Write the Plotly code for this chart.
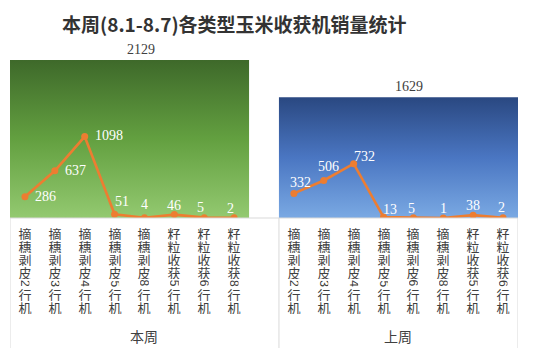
import plotly.graph_objects as go

groups = ["本周", "上周"]
totals = [2129, 1629]
this_week_cats = ["摘穗剥皮2行机", "摘穗剥皮3行机", "摘穗剥皮4行机", "摘穗剥皮5行机",
                  "摘穗剥皮8行机", "籽粒收获5行机", "籽粒收获6行机", "籽粒收获8行机"]
this_week_vals = [286, 637, 1098, 51, 4, 46, 5, 2]
last_week_cats = ["摘穗剥皮2行机", "摘穗剥皮3行机", "摘穗剥皮4行机", "摘穗剥皮5行机",
                  "摘穗剥皮6行机", "摘穗剥皮8行机", "籽粒收获5行机", "籽粒收获6行机"]
last_week_vals = [332, 506, 732, 13, 5, 1, 38, 2]
title_text = "本周(8.1-8.7)各类型玉米收获机销量统计"

# positions on a numeric category axis (one blank slot between the two groups)
x1 = list(range(len(this_week_vals)))
x2 = [len(this_week_vals) + 1 + i for i in range(len(last_week_vals))]
xs = x1 + [None] + x2
ys = this_week_vals + [None] + last_week_vals

# the page body has an 8px default margin; size the figure to fill the rest
W, H = 546, 350
T, B = 32, 140
PH = H - T - B

fig = go.Figure()

grad_colors = [
    [[0, "#93c970"], [0.5, "#63a040"], [1, "#3e692a"]],
    [[0, "#7aa9e3"], [0.5, "#4a76c2"], [1, "#2a4881"]],
]
spans = [(x1[0] - 0.5, x1[-1] + 0.5), (x2[0] - 0.5, x2[-1] + 0.5)]
for (a, b), tot, cs in zip(spans, totals, grad_colors):
    fig.add_trace(go.Scatter(
        x=[a, b, b, a, a], y=[0, 0, tot, tot, 0],
        mode="lines", fill="toself", line=dict(width=0),
        fillgradient=dict(type="vertical", colorscale=cs, start=0, stop=tot),
        hoverinfo="skip", showlegend=False))

fig.add_trace(go.Scatter(
    x=xs, y=ys, mode="lines+markers",
    line=dict(color="#ED7D31", width=2.6),
    marker=dict(color="#ED7D31", size=7),
    connectgaps=False, showlegend=False))

val_font = dict(family="Liberation Serif", size=14, color="white")
shifts1 = [(21, 0), (21, 0), (24, 1), (7, 13), (0, 13), (0, 9), (-4, 10), (-4, 9)]
shifts2 = [(7, 11), (5, 14), (11, 7), (6, 8), (-2, 9), (0, 9), (0, 10), (-2, 10)]
for xv, yv, (dx, dy) in zip(x1 + x2, this_week_vals + last_week_vals, shifts1 + shifts2):
    fig.add_annotation(x=xv, y=yv, text=str(yv), showarrow=False,
                       xshift=dx, yshift=dy, font=val_font)

# totals labels
for (a, b), tot in zip(spans, totals):
    fig.add_annotation(x=(a + b) / 2, y=tot, text=str(tot), showarrow=False,
                       xshift=11, yshift=11, font=dict(family="Liberation Serif", size=14, color="#404040"))

# vertical category labels
char_y = [233.5, 246.5, 259.5, 272.5, 283.5, 294, 307]
base_y = 218
cat_font = dict(family="Noto Sans CJK SC", size=13, color="#404040")
for xv, lab in zip(x1 + x2, this_week_cats + last_week_cats):
    for ch, cy in zip(lab, char_y):
        is_digit = ch.isdigit()
        fig.add_annotation(x=xv, xref="x", y=0, yref="paper", yanchor="middle",
                           yshift=-(cy - base_y), text=ch, showarrow=False,
                           height=9 if is_digit else 13, width=14,
                           borderpad=0,
                           textangle=90 if is_digit else 0,
                           font=dict(family="Liberation Sans", size=12, color="#404040") if is_digit else cat_font)

# group labels
for (a, b), g in zip([(x1[0] - 0.5, x1[-1] + 1.5), spans[1]], groups):
    fig.add_annotation(x=(a + b) / 2, xref="x", y=0, yref="paper", yanchor="middle",
                       yshift=-(336 - base_y), text=g, showarrow=False,
                       font=dict(family="Noto Sans CJK SC", size=14, color="#404040"))

# title as annotation
fig.add_annotation(x=(234 - 10) / 507.6, xref="paper", xanchor="center",
                   y=1 + (T - 15) / PH, yref="paper", yanchor="middle",
                   text="<b>" + title_text + "</b>", showarrow=False,
                   font=dict(family="Noto Sans CJK SC", size=19, color="#333333"))

# category axis frame lines
for xv in [x1[0] - 0.5, x2[0] - 0.5, x2[-1] + 0.5]:
    fig.add_shape(type="line", x0=xv, x1=xv, xref="x", y0=0, y1=-130 / PH, yref="paper",
                  line=dict(color="#d9d9d9", width=1))
fig.add_shape(type="line", x0=x1[0] - 0.5, x1=x2[-1] + 0.5, xref="x", y0=0, y1=0, yref="paper",
              line=dict(color="#d9d9d9", width=1))

fig.update_layout(
    width=W, height=H,
    margin=dict(l=2, r=36, t=T, b=B),
    paper_bgcolor="white", plot_bgcolor="white",
    xaxis=dict(range=[-0.5, 16.5], showgrid=False, zeroline=False, showticklabels=False,
               ticks="", showline=False, fixedrange=True),
    yaxis=dict(range=[0, 2400], showgrid=False, zeroline=False, showticklabels=False,
               ticks="", showline=False, fixedrange=True),
    showlegend=False,
)

fig.write_html("out.html")
